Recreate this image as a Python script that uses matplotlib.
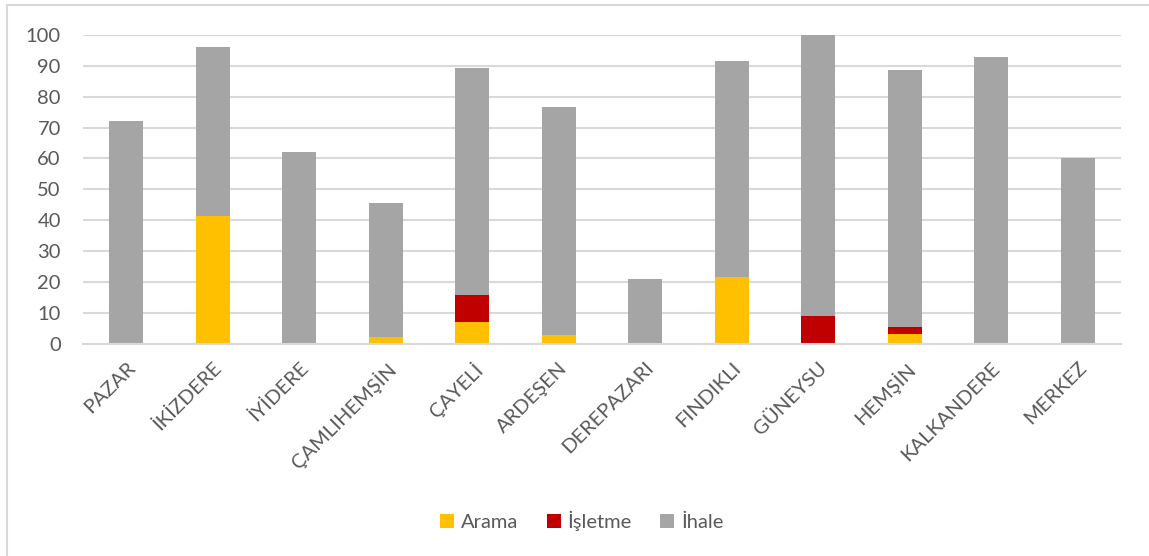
import matplotlib
matplotlib.use("Agg")
import matplotlib.pyplot as plt
from matplotlib.lines import Line2D
from matplotlib.patches import Patch
import numpy as np

categories = ["PAZAR", "İKİZDERE", "İYİDERE", "ÇAMLIHEMŞİN", "ÇAYELİ", "ARDEŞEN",
              "DEREPAZARI", "FINDIKLI", "GÜNEYSU", "HEMŞİN", "KALKANDERE", "MERKEZ"]
arama   = [0, 41.4, 0, 2.3, 7.0, 2.9, 0, 21.6, 0, 3.2, 0, 0]
isletme = [0, 0, 0, 0, 8.7, 0, 0, 0, 8.9, 2.1, 0, 0]
ihale   = [72, 54.8, 62, 43.2, 73.6, 73.9, 20.9, 70.0, 91.1, 83.4, 93.0, 60]
series_names = ["Arama", "İşletme", "İhale"]
colors = ["#FFC000", "#C00000", "#A5A5A5"]
yticks = list(range(0, 101, 10))

plt.rcParams['font.family'] = ['Lato', 'DejaVu Sans']
txt = "#595959"
grid = "#D9D9D9"
fs = 14.5

W, H = 1149, 556
fig = plt.figure(figsize=(W/100, H/100), dpi=100)
ax = fig.add_axes([83/W, 1-343.7/H, (1121-83)/W, (343.7-35)/H])

x = np.arange(len(categories))
bw = 0.39
a = np.array(arama); i = np.array(isletme); h = np.array(ihale)
ax.bar(x, a, bw, color=colors[0], zorder=3)
ax.bar(x, i, bw, bottom=a, color=colors[1], zorder=3)
ax.bar(x, h, bw, bottom=a+i, color=colors[2], zorder=3)

ax.set_xlim(-0.5, len(categories)-0.5)
ax.set_ylim(0, 100)
ax.set_yticks(yticks)
ax.yaxis.grid(True, color=grid, linewidth=1.5, zorder=0)
ax.set_axisbelow(True)
for s in ["top", "right", "left"]:
    ax.spines[s].set_visible(False)
ax.spines["bottom"].set_color(grid)
ax.spines["bottom"].set_linewidth(1.5)
ax.spines["bottom"].set_zorder(4)
ax.tick_params(axis="y", length=0, pad=16, labelsize=fs, labelcolor=txt)
ax.tick_params(axis="x", length=0, pad=11, labelsize=fs, labelcolor=txt)
ax.set_xticks(x)
ax.set_xticklabels(categories, rotation=45, ha="right", rotation_mode="anchor")

handles = [Patch(facecolor=c, edgecolor="none") for c in colors]
fig.legend(handles, series_names, loc="center", bbox_to_anchor=(582/W, 1-521/H),
           ncol=3, frameon=False, fontsize=fs, labelcolor=txt,
           handlelength=0.7, handleheight=0.7, handletextpad=0.35, columnspacing=1.4)

# chart area border (partially visible)
fig.add_artist(Line2D([7/W, 1], [1-5/H, 1-5/H], color=grid, linewidth=1.5, transform=fig.transFigure))
fig.add_artist(Line2D([7/W, 7/W], [0, 1-5/H], color=grid, linewidth=1.5, transform=fig.transFigure))

fig.savefig("out.png", dpi=100)
